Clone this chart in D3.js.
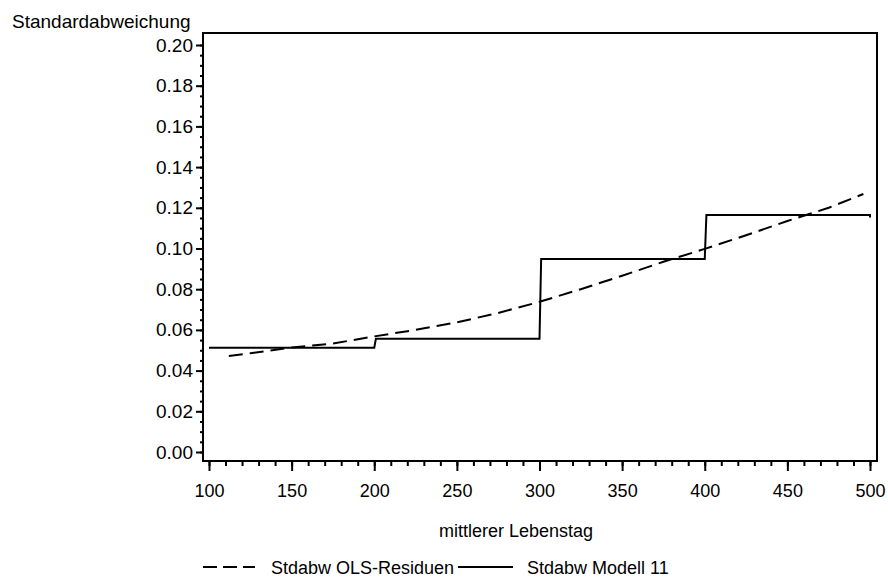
<!DOCTYPE html>
<html>
<head>
<meta charset="utf-8">
<script src="https://cdn.jsdelivr.net/npm/d3@7"></script>
<style>
  body { margin: 0; background: #fff; }
  text { font-family: Arial, "Liberation Sans", sans-serif; fill: #000; }
</style>
</head>
<body>
<div id="chart"></div>
<script>
// Stdabw OLS-Residuen (dashed curve)
var olsDays = [112, 125, 150, 175, 200, 225, 250, 275, 300, 325, 350, 375, 400, 425, 450, 475, 496];
var olsSd   = [0.0472, 0.0485, 0.0513, 0.0533, 0.0568, 0.0600, 0.0637, 0.0683, 0.0738, 0.0800, 0.0866, 0.0935, 0.0998, 0.1065, 0.1135, 0.1200, 0.1268];

// Stdabw Modell 11 (step function)
var modDays = [100, 200, 201, 300, 301, 400, 401, 500, 500];
var modSd   = [0.0512, 0.0512, 0.0557, 0.0557, 0.0948, 0.0948, 0.1165, 0.1165, 0.1152];

var xTicks = [100, 150, 200, 250, 300, 350, 400, 450, 500];
var yTicks = [0, 0.02, 0.04, 0.06, 0.08, 0.10, 0.12, 0.14, 0.16, 0.18, 0.20];

var width = 888, height = 579;
var frame = {left: 203, right: 877, top: 33, bottom: 461};

var svg = d3.select("#chart").append("svg")
    .attr("width", width)
    .attr("height", height);

var x = d3.scaleLinear().domain([100, 500]).range([209, 870]);
var y = d3.scaleLinear().domain([0, 0.2]).range([452, 45]);

// frame
svg.append("rect")
    .attr("x", frame.left)
    .attr("y", frame.top)
    .attr("width", frame.right - frame.left)
    .attr("height", frame.bottom - frame.top)
    .attr("fill", "none")
    .attr("stroke", "#000")
    .attr("stroke-width", 2);

// minor ticks
svg.append("g")
    .attr("transform", "translate(" + frame.left + ",0)")
    .call(d3.axisLeft(y).tickValues(d3.range(0, 0.2001, 0.005)).tickSize(3).tickFormat(""))
    .call(g => g.select(".domain").remove())
    .selectAll("line").attr("stroke-width", 2);

svg.append("g")
    .attr("transform", "translate(0," + frame.bottom + ")")
    .call(d3.axisBottom(x).tickValues(d3.range(100, 501, 10)).tickSize(5).tickFormat(""))
    .call(g => g.select(".domain").remove())
    .selectAll("line").attr("stroke-width", 2);

// major ticks + labels
var yAxis = svg.append("g")
    .attr("transform", "translate(" + frame.left + ",0)")
    .call(d3.axisLeft(y).tickValues(yTicks).tickSize(7).tickPadding(3).tickFormat(d3.format(".2f")));
yAxis.select(".domain").remove();
yAxis.selectAll("line").attr("stroke-width", 2);
yAxis.selectAll("text").style("font-size", "19px").attr("fill", "#000");

var xAxis = svg.append("g")
    .attr("transform", "translate(0," + frame.bottom + ")")
    .call(d3.axisBottom(x).tickValues(xTicks).tickSize(10).tickPadding(13));
xAxis.select(".domain").remove();
xAxis.selectAll("line").attr("stroke-width", 2);
xAxis.selectAll("text").style("font-size", "18px").attr("fill", "#000");

// lines
var line = d3.line().x(d => x(d[0])).y(d => y(d[1]));

svg.append("path")
    .datum(d3.zip(olsDays, olsSd))
    .attr("d", line)
    .attr("fill", "none")
    .attr("stroke", "#000")
    .attr("stroke-width", 2)
    .attr("stroke-dasharray", "14,7");

svg.append("path")
    .datum(d3.zip(modDays, modSd))
    .attr("d", line)
    .attr("fill", "none")
    .attr("stroke", "#000")
    .attr("stroke-width", 2);

// titles
svg.append("text")
    .attr("x", 12)
    .attr("y", 28)
    .style("font-size", "19px")
    .text("Standardabweichung");

svg.append("text")
    .attr("x", 516)
    .attr("y", 537)
    .attr("text-anchor", "middle")
    .style("font-size", "18px")
    .text("mittlerer Lebenstag");

// legend
var legend = svg.append("g");
legend.append("line")
    .attr("x1", 203).attr("x2", 255).attr("y1", 567).attr("y2", 567)
    .attr("stroke", "#000").attr("stroke-width", 2).attr("stroke-dasharray", "14,6");
legend.append("text")
    .attr("x", 271).attr("y", 574)
    .style("font-size", "18px")
    .text("Stdabw OLS-Residuen");
legend.append("line")
    .attr("x1", 458).attr("x2", 513).attr("y1", 567).attr("y2", 567)
    .attr("stroke", "#000").attr("stroke-width", 2);
legend.append("text")
    .attr("x", 527).attr("y", 574)
    .style("font-size", "18px")
    .text("Stdabw Modell 11");
</script>
</body>
</html>
